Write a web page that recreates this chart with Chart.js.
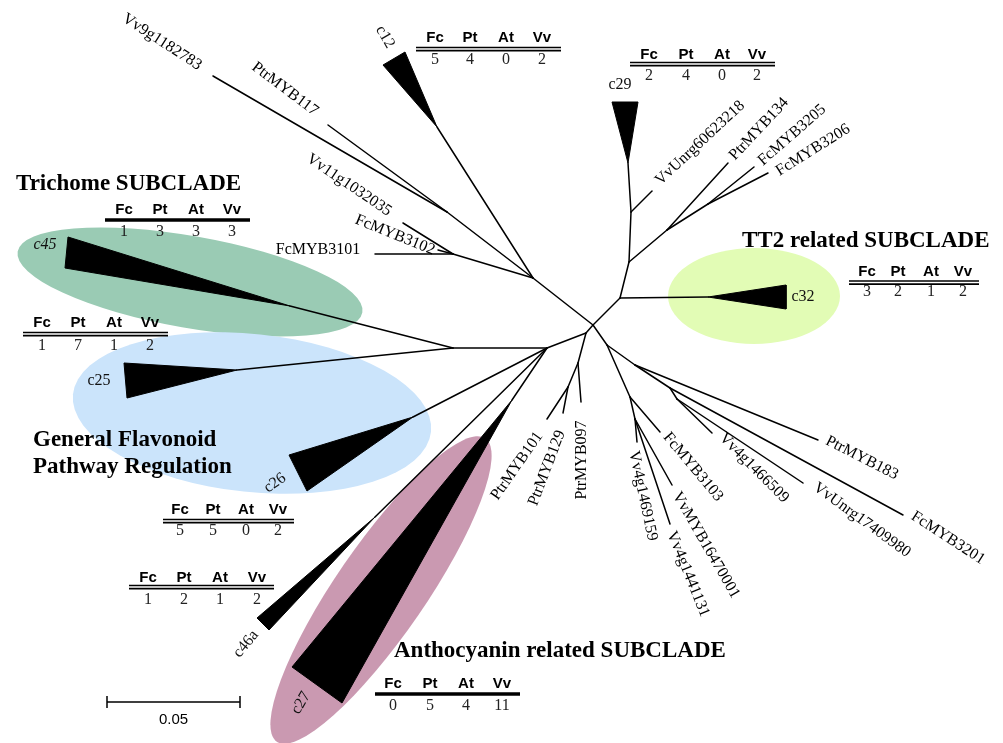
<!DOCTYPE html>
<html>
<head>
<meta charset="utf-8">
<title>R2R3-MYB flavonoid regulators – unrooted tree</title>
<script src="https://cdn.jsdelivr.net/npm/chart.js@4/dist/chart.umd.min.js"></script>
<style>
  html, body { margin: 0; padding: 0; background: #ffffff; }
  #wrap { width: 1003px; height: 743px; }
</style>
</head>
<body>
<div id="wrap"><canvas id="tree" width="1003" height="743"></canvas></div>
<script>
// ---- Tree data: node positions of the unrooted layout (branch lengths drawn to scale) ----
const treeNodes = [
  // internal nodes
  ['D', 593, 325], ['B', 533, 278], ['A', 447, 212], ['C', 453, 254],
  ['E', 620, 298], ['F', 629, 262], ['F2', 631, 212], ['G', 667, 230], ['H', 708, 204],
  ['I', 586, 333], ['K', 547, 348], ['N', 453, 348], ['M', 578, 363], ['L', 568, 387],
  ['J', 607, 345], ['O', 630, 397], ['P', 635, 419], ['Q', 635, 365], ['S', 670, 388], ['R', 677, 399],
  // leaves
  ['Vv9g1182783', 213, 76], ['PtrMYB117', 328, 125], ['Vv11g1032035', 403, 223],
  ['FcMYB3102', 438, 250], ['FcMYB3101', 375, 254],
  ['VvUnrg60623218', 652, 191], ['PtrMYB134', 728, 163], ['FcMYB3205', 754, 167], ['FcMYB3206', 768, 173],
  ['PtrMYB101', 547, 419], ['PtrMYB129', 563, 413], ['PtrMYB097', 581, 402],
  ['FcMYB3103', 660, 432], ['Vv4g1469159', 637, 442], ['Vv4g1441131', 670, 524], ['VvMYB16470001', 672, 485],
  ['PtrMYB183', 818, 440], ['FcMYB3201', 903, 515], ['VvUnrg17409980', 803, 483], ['Vv4g1466509', 712, 433],
  // collapsed clade roots
  ['c12', 437, 127], ['c29', 628, 163], ['c32', 708, 297], ['c45', 290, 306],
  ['c25', 237, 370], ['c26', 413, 417], ['c46a', 375, 517], ['c27', 512, 400]
];

const branches = [
  ['D', 'B'], ['B', 'A'], ['A', 'Vv9g1182783'], ['A', 'PtrMYB117'], ['B', 'c12'],
  ['B', 'C'], ['C', 'Vv11g1032035'], ['C', 'FcMYB3102'], ['C', 'FcMYB3101'],
  ['D', 'E'], ['E', 'c32'], ['E', 'F'], ['F', 'F2'], ['F2', 'c29'], ['F2', 'VvUnrg60623218'],
  ['F', 'G'], ['G', 'PtrMYB134'], ['G', 'H'], ['H', 'FcMYB3205'], ['H', 'FcMYB3206'],
  ['D', 'I'], ['I', 'K'], ['K', 'N'], ['N', 'c45'], ['N', 'c25'], ['K', 'c26'], ['K', 'c46a'], ['K', 'c27'],
  ['I', 'M'], ['M', 'PtrMYB097'], ['M', 'L'], ['L', 'PtrMYB101'], ['L', 'PtrMYB129'],
  ['D', 'J'], ['J', 'O'], ['O', 'FcMYB3103'], ['O', 'P'], ['P', 'Vv4g1469159'], ['P', 'Vv4g1441131'],
  ['P', 'VvMYB16470001'], ['J', 'Q'], ['Q', 'PtrMYB183'], ['Q', 'S'], ['S', 'FcMYB3201'],
  ['S', 'R'], ['R', 'VvUnrg17409980'], ['R', 'Vv4g1466509']
];

// Collapsed clades: the two outer corners of each wedge (its root is in treeNodes)
const cladeNames = ['c12', 'c29', 'c45', 'c25', 'c26', 'c46a', 'c27', 'c32'];
const wedgeCornerA = [[383, 65], [612, 102], [68, 237], [124, 363], [289, 455], [257, 618], [292, 667], [786, 285]];
const wedgeCornerB = [[405, 52], [638, 102], [65, 268], [127, 398], [307, 491], [269, 630], [342, 703], [786, 309]];

// Gene counts per collapsed clade
const speciesCodes = ['Fc', 'Pt', 'At', 'Vv'];
const fcCounts = [5, 2, 1, 1, 5, 1, 0, 3];
const ptCounts = [4, 4, 3, 7, 5, 2, 5, 2];
const atCounts = [0, 0, 3, 1, 0, 1, 4, 1];
const vvCounts = [2, 2, 3, 2, 2, 2, 11, 2];

// ---- Layout of the annotation ----
const countTables = [ // columns x, header y, rule y, numbers y, rule from/to, double rule?
  { cols: [435, 470, 506, 542], hy: 38, ly: 47.5, ny: 60, x0: 416, x1: 561, dbl: true },
  { cols: [649, 686, 722, 757], hy: 55, ly: 62.5, ny: 76, x0: 630, x1: 775, dbl: true },
  { cols: [124, 160, 196, 232], hy: 210, ly: 220, ny: 232, x0: 105, x1: 250, dbl: false },
  { cols: [42, 78, 114, 150], hy: 323, ly: 332.5, ny: 345.5, x0: 23, x1: 168, dbl: true },
  { cols: [180, 213, 246, 278], hy: 510, ly: 519.5, ny: 531, x0: 163, x1: 294, dbl: true },
  { cols: [148, 184, 220, 257], hy: 578, ly: 585.5, ny: 600, x0: 129, x1: 274, dbl: true },
  { cols: [393, 430, 466, 502], hy: 684, ly: 694, ny: 706, x0: 375, x1: 520, dbl: false },
  { cols: [867, 898, 931, 963], hy: 272, ly: 281, ny: 292, x0: 849, x1: 979, dbl: true }
];

const leafLabels = [ // text, centre x, centre y, angle (deg)
  ['Vv9g1182783', 162, 42, 33], ['PtrMYB117', 285, 89, 37], ['Vv11g1032035', 349, 185, 34],
  ['FcMYB3102', 395, 235, 22], ['FcMYB3101', 318, 250, 0],
  ['VvUnrg60623218', 700, 143, -43], ['PtrMYB134', 759, 129, -47], ['FcMYB3205', 792, 135, -41],
  ['FcMYB3206', 813, 150, -32],
  ['PtrMYB183', 862, 458, 27], ['FcMYB3201', 948, 538, 33], ['VvUnrg17409980', 862, 520, 36],
  ['Vv4g1466509', 754, 468, 45], ['FcMYB3103', 693, 467, 50], ['VvMYB16470001', 706, 545, 60],
  ['Vv4g1441131', 688, 574, 68], ['Vv4g1469159', 643, 496, 78],
  ['PtrMYB097', 582, 460, -90], ['PtrMYB129', 547, 468, -69], ['PtrMYB101', 517, 466, -55]
];

const cladeLabels = [ // text, centre x, centre y, angle (deg), italic
  ['c12', 385, 37, 60, false], ['c29', 620, 85, 0, false], ['c32', 803, 297, 0, false],
  ['c45', 45, 245, 0, true], ['c25', 99, 381, 0, false], ['c26', 275, 483, -35, false],
  ['c46a', 246, 644, -50, false], ['c27', 301, 703, -60, false]
];

const subcladeTitles = [ // text, left x, baseline y
  ['Trichome SUBCLADE', 16, 190], ['TT2 related SUBCLADE', 742, 247],
  ['General Flavonoid', 33, 446], ['Pathway Regulation', 33, 473],
  ['Anthocyanin related SUBCLADE', 394, 657]
];

const highlights = [ // subclade shading
  { cx: 190, cy: 282, rx: 175, ry: 46, rot: 10, color: '#9acbb4' },
  { cx: 252, cy: 413, rx: 180, ry: 79, rot: 6, color: '#cbe4fb' },
  { cx: 754, cy: 296, rx: 86, ry: 48, rot: 0, color: '#e2fcb5' },
  { cx: 381, cy: 590, rx: 184, ry: 45, rot: -55.5, color: '#ca99b1' }
];

const scaleBar = { x0: 107, x1: 240, y: 702, label: '0.05' };

const SERIF = '"Liberation Serif", "Times New Roman", serif';
const SANS = '"Liberation Sans", Arial, sans-serif';

// ---- Build datasets ----
const nodeIndex = {};
treeNodes.forEach(([id, x, y]) => { nodeIndex[id] = { x, y }; });

const datasets = [];
branches.forEach(([a, b]) => {
  datasets.push({
    data: [nodeIndex[a], nodeIndex[b]],
    showLine: true, borderColor: '#000', borderWidth: 1.5, borderCapStyle: 'round',
    pointRadius: 0, fill: false
  });
});
cladeNames.forEach((name, i) => {
  const root = nodeIndex[name];
  datasets.push({
    data: [root, { x: wedgeCornerA[i][0], y: wedgeCornerA[i][1] },
           { x: wedgeCornerB[i][0], y: wedgeCornerB[i][1] }, root],
    showLine: true, fill: 'shape', backgroundColor: '#000', borderColor: '#000',
    borderWidth: 1, pointRadius: 0
  });
});

// ---- Annotation plugin ----
const annotations = {
  id: 'treeAnnotations',
  beforeDatasetsDraw(chart) {
    const { ctx, scales: { x, y } } = chart;
    ctx.save();
    highlights.forEach(h => {
      const cx = x.getPixelForValue(h.cx), cy = y.getPixelForValue(h.cy);
      const rx = x.getPixelForValue(h.cx + h.rx) - cx;
      const ry = y.getPixelForValue(h.cy + h.ry) - cy;
      ctx.beginPath();
      ctx.ellipse(cx, cy, Math.abs(rx), Math.abs(ry), h.rot * Math.PI / 180, 0, Math.PI * 2);
      ctx.fillStyle = h.color;
      ctx.fill();
    });
    ctx.restore();
  },
  afterDatasetsDraw(chart) {
    const { ctx, scales: { x, y } } = chart;
    const px = v => x.getPixelForValue(v);
    const py = v => y.getPixelForValue(v);

    const rotText = (text, cx, cy, deg, font, color) => {
      ctx.save();
      ctx.translate(px(cx), py(cy));
      ctx.rotate(deg * Math.PI / 180);
      ctx.font = font;
      ctx.fillStyle = color;
      ctx.textAlign = 'center';
      ctx.textBaseline = 'middle';
      ctx.fillText(text, 0, 0);
      ctx.restore();
    };

    leafLabels.forEach(([t, cx, cy, a]) => rotText(t, cx, cy, a, '16px ' + SERIF, '#000'));
    cladeLabels.forEach(([t, cx, cy, a, it]) =>
      rotText(t, cx, cy, a, (it ? 'italic ' : '') + '16px ' + SERIF, '#111'));

    // subclade titles
    ctx.save();
    ctx.font = 'bold 23px ' + SERIF;
    ctx.fillStyle = '#000';
    ctx.textAlign = 'left';
    ctx.textBaseline = 'alphabetic';
    subcladeTitles.forEach(([t, lx, by]) => ctx.fillText(t, px(lx), py(by)));
    ctx.restore();

    // count tables
    const counts = [fcCounts, ptCounts, atCounts, vvCounts];
    countTables.forEach((tb, i) => {
      ctx.save();
      ctx.fillStyle = '#000';
      ctx.textAlign = 'center';
      ctx.textBaseline = 'middle';
      ctx.font = 'bold 15px ' + SANS;
      speciesCodes.forEach((s, c) => ctx.fillText(s, px(tb.cols[c]), py(tb.hy)));
      ctx.strokeStyle = '#000';
      if (tb.dbl) {
        ctx.lineWidth = 1.7;
        [0, 3.2].forEach(off => {
          ctx.beginPath();
          ctx.moveTo(px(tb.x0), py(tb.ly + off));
          ctx.lineTo(px(tb.x1), py(tb.ly + off));
          ctx.stroke();
        });
      } else {
        ctx.lineWidth = 3.4;
        ctx.beginPath();
        ctx.moveTo(px(tb.x0), py(tb.ly));
        ctx.lineTo(px(tb.x1), py(tb.ly));
        ctx.stroke();
      }
      ctx.font = '16px ' + SERIF;
      ctx.fillStyle = '#222';
      counts.forEach((arr, c) => ctx.fillText(String(arr[i]), px(tb.cols[c]), py(tb.ny)));
      ctx.restore();
    });

    // scale bar
    ctx.save();
    ctx.strokeStyle = '#000';
    ctx.lineWidth = 1.5;
    ctx.beginPath();
    ctx.moveTo(px(scaleBar.x0), py(scaleBar.y));
    ctx.lineTo(px(scaleBar.x1), py(scaleBar.y));
    [scaleBar.x0, scaleBar.x1].forEach(xx => {
      ctx.moveTo(px(xx), py(scaleBar.y - 6));
      ctx.lineTo(px(xx), py(scaleBar.y + 6));
    });
    ctx.stroke();
    ctx.font = '15px ' + SANS;
    ctx.fillStyle = '#000';
    ctx.textAlign = 'center';
    ctx.textBaseline = 'middle';
    ctx.fillText(scaleBar.label, px((scaleBar.x0 + scaleBar.x1) / 2), py(720));
    ctx.restore();
  }
};

new Chart(document.getElementById('tree'), {
  type: 'scatter',
  data: { datasets },
  options: {
    responsive: false,
    animation: false,
    events: [],
    layout: { padding: 0 },
    plugins: { legend: { display: false }, tooltip: { enabled: false } },
    scales: {
      x: { type: 'linear', min: 0, max: 1003, display: false },
      y: { type: 'linear', min: 0, max: 743, reverse: true, display: false }
    }
  },
  plugins: [annotations]
});
</script>
</body>
</html>
